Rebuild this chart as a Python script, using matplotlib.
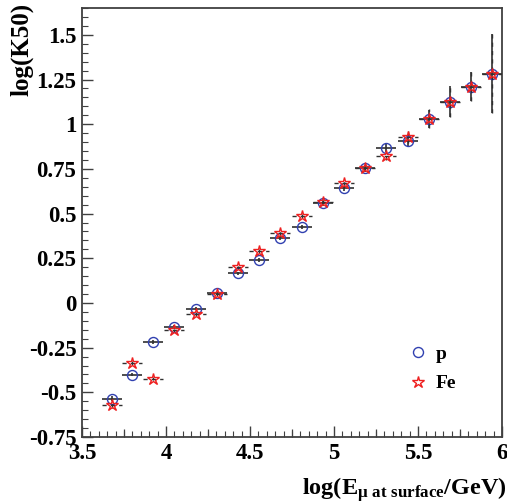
import matplotlib
matplotlib.use("Agg")
import matplotlib.pyplot as plt
from matplotlib.ticker import MultipleLocator, FixedLocator, NullFormatter
import numpy as np

# bin centres in log(E_mu/GeV) and fitted log(K50) for proton and iron primaries
log_e = [3.68, 3.80, 3.925, 4.05, 4.18, 4.305, 4.43, 4.555, 4.68, 4.81,
         4.935, 5.06, 5.185, 5.31, 5.44, 5.565, 5.69, 5.815, 5.94]
k50_p = [-0.535, -0.401, -0.218, -0.134, -0.032, 0.053, 0.165, 0.239, 0.364,
         0.423, 0.557, 0.641, 0.753, 0.865, 0.906, 1.029, 1.126, 1.210, 1.282]
k50_fe = [-0.573, -0.336, -0.423, -0.154, -0.063, 0.050, 0.199, 0.290, 0.389,
          0.486, 0.566, 0.673, 0.755, 0.822, 0.930, 1.030, 1.126, 1.210, 1.282]
err_k50 = [0.012, 0.010, 0.010, 0.010, 0.010, 0.010, 0.010, 0.010, 0.012,
           0.012, 0.014, 0.016, 0.018, 0.022, 0.034, 0.053, 0.088, 0.080, 0.220]
half_bin = 0.06

plt.rcParams["font.family"] = "Liberation Serif"
plt.rcParams["font.weight"] = "bold"
plt.rcParams["axes.labelweight"] = "bold"
plt.rcParams["mathtext.fontset"] = "custom"
plt.rcParams["mathtext.rm"] = "Liberation Serif:bold"
plt.rcParams["mathtext.it"] = "Liberation Serif:bold"
plt.rcParams["mathtext.bf"] = "Liberation Serif:bold"

fig = plt.figure(figsize=(5.07, 5.04), dpi=100)
ax = fig.add_axes([0.1617, 0.1329, 0.8284, 0.8512])

xerr = [half_bin] * len(log_e)
eb_p = ax.errorbar(log_e, k50_p, xerr=xerr, yerr=err_k50, fmt="o", ms=7.2,
                   mfc="none", mec="#3040b0", mew=1.0, ecolor="#303030",
                   elinewidth=1.2, capsize=0, zorder=3)
eb_fe = ax.errorbar(log_e, k50_fe, xerr=xerr, yerr=err_k50, fmt="*", ms=9,
                    mfc="none", mec="#ee2020", mew=1.0, ecolor="#303030",
                    elinewidth=1.0, capsize=0, zorder=4)
for line in eb_fe[2]:
    line.set_linestyle((0, (3, 3)))

ax.set_xlim(3.5, 6.0)
ax.set_ylim(-0.75, 1.65)
ax.xaxis.set_major_locator(MultipleLocator(0.5))
ax.xaxis.set_minor_locator(MultipleLocator(0.05))
ax.yaxis.set_major_locator(MultipleLocator(0.25))
ax.yaxis.set_minor_locator(MultipleLocator(0.05))
ax.xaxis.set_major_formatter(plt.FuncFormatter(lambda v, _: f"{v:g}"))
ax.yaxis.set_major_formatter(plt.FuncFormatter(lambda v, _: f"{v:g}"))
ax.tick_params(which="both", direction="in", top=False, right=False,
               color="#404040", labelsize=16.5)
ax.tick_params(which="major", length=8, width=1.0, pad=4)
ax.tick_params(which="minor", length=4, width=0.8)
ax.tick_params(axis="y", which="major", pad=4)
for s in ax.spines.values():
    s.set_color("#404040")
    s.set_linewidth(1.3)

# intermediate ticks every 0.25 on the energy axis
sec = ax.secondary_xaxis("bottom")
sec.xaxis.set_major_locator(FixedLocator(np.arange(3.75, 6.0, 0.5)))
sec.xaxis.set_major_formatter(NullFormatter())
sec.tick_params(direction="in", length=6, width=0.9, color="#404040")
sec.spines["bottom"].set_visible(False)

ax.set_ylabel("log(K50)", fontsize=18, loc="top")
ax.yaxis.set_label_coords(-0.115, 1.012)
ax.set_xlabel(r"log(E$_{\mu\ \mathrm{at\ surface}}$/GeV)", fontsize=17.5, loc="right")
ax.xaxis.set_label_coords(1.012, -0.09)

ax.legend([eb_p[0], eb_fe[0]], ["p", "Fe"], loc="upper left",
          bbox_to_anchor=(0.736, 0.255), frameon=False, fontsize=14,
          handlelength=1.0, handletextpad=0.4, labelspacing=0.62)

fig.savefig("out.png", dpi=100)
